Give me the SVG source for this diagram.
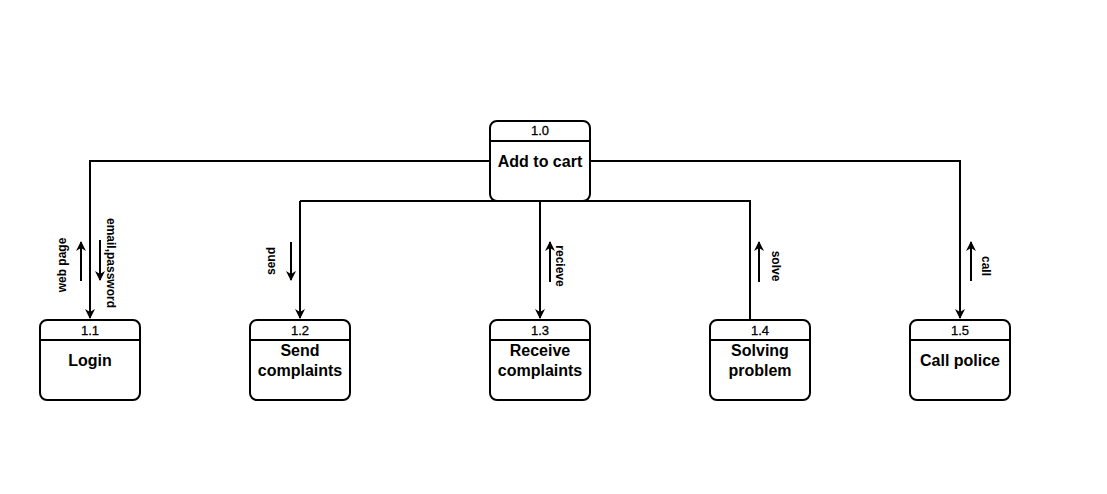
<svg xmlns="http://www.w3.org/2000/svg" width="1107" height="494" viewBox="0 0 1107 494">
<style>
.box{fill:#fff;stroke:#000;stroke-width:2}
.hl{stroke:#000;stroke-width:2}
.num{font-family:"Liberation Sans",Arial,sans-serif;font-size:13px;text-anchor:middle;fill:#000;stroke:#000;stroke-width:0.3}
.lbl{font-family:"Liberation Sans",Arial,sans-serif;font-size:16px;font-weight:bold;text-anchor:middle;fill:#000}
.el{font-family:"Liberation Sans",Arial,sans-serif;font-size:12px;font-weight:bold;text-anchor:middle;fill:#000}
.c{fill:none;stroke:#000;stroke-width:2}
.a{fill:none;stroke:#000;stroke-width:2}
</style>
<defs>
<marker id="ah" viewBox="0 0 10 10" refX="9" refY="5" markerWidth="5" markerHeight="5" markerUnits="strokeWidth" orient="auto">
<path d="M0,0 L10,5 L0,10 L3,5 Z" fill="#000"/>
</marker>
</defs>
<rect width="1107" height="494" fill="#fff"/>
<g id="connectors">
<path class="c" d="M490,161 H90 V318" marker-end="url(#ah)"/>
<path class="c" d="M540,201 V318" marker-end="url(#ah)"/>
<path class="c" d="M300,201 H750 V320"/>
<path class="c" d="M300,201 V318" marker-end="url(#ah)"/>
<path class="c" d="M590,161 H960 V318" marker-end="url(#ah)"/>
<g id="flow-labels">
<path class="a" d="M81,281 V242" marker-end="url(#ah)"/>
<text class="el" transform="translate(66,265) rotate(-90)">web page</text>
<path class="a" d="M100,240 V280" marker-end="url(#ah)"/>
<text class="el" transform="translate(107,263) rotate(90)">email,password</text>
<path class="a" d="M291,242 V280" marker-end="url(#ah)"/>
<text class="el" transform="translate(275,261) rotate(-90)">send</text>
<path class="a" d="M550,282 V242" marker-end="url(#ah)"/>
<text class="el" transform="translate(556,266) rotate(90)">recieve</text>
<path class="a" d="M759,282 V242" marker-end="url(#ah)"/>
<text class="el" transform="translate(772,266) rotate(90)">solve</text>
<path class="a" d="M971,281 V242" marker-end="url(#ah)"/>
<text class="el" transform="translate(982,266) rotate(90)">call</text>
</g>
</g>
<g id="node-1.0">
<rect class="box" x="490" y="121" width="100" height="80" rx="7"/>
<line class="hl" x1="490" y1="141" x2="590" y2="141"/>
<text class="num" x="540" y="135">1.0</text>
<text class="lbl" x="540" y="167">Add to cart</text>
</g>
<g id="node-1.1">
<rect class="box" x="40" y="320" width="100" height="80" rx="7"/>
<line class="hl" x1="40" y1="340" x2="140" y2="340"/>
<text class="num" x="90" y="335">1.1</text>
<text class="lbl" x="90" y="366">Login</text>
</g>
<g id="node-1.2">
<rect class="box" x="250" y="320" width="100" height="80" rx="7"/>
<line class="hl" x1="250" y1="340" x2="350" y2="340"/>
<text class="num" x="300" y="335">1.2</text>
<text class="lbl" x="300" y="356">Send</text>
<text class="lbl" x="300" y="376">complaints</text>
</g>
<g id="node-1.3">
<rect class="box" x="490" y="320" width="100" height="80" rx="7"/>
<line class="hl" x1="490" y1="340" x2="590" y2="340"/>
<text class="num" x="540" y="335">1.3</text>
<text class="lbl" x="540" y="356">Receive</text>
<text class="lbl" x="540" y="376">complaints</text>
</g>
<g id="node-1.4">
<rect class="box" x="710" y="320" width="100" height="80" rx="7"/>
<line class="hl" x1="710" y1="340" x2="810" y2="340"/>
<text class="num" x="760" y="335">1.4</text>
<text class="lbl" x="760" y="356">Solving</text>
<text class="lbl" x="760" y="376">problem</text>
</g>
<g id="node-1.5">
<rect class="box" x="910" y="320" width="100" height="80" rx="7"/>
<line class="hl" x1="910" y1="340" x2="1010" y2="340"/>
<text class="num" x="960" y="335">1.5</text>
<text class="lbl" x="960" y="366">Call police</text>
</g>
</svg>
